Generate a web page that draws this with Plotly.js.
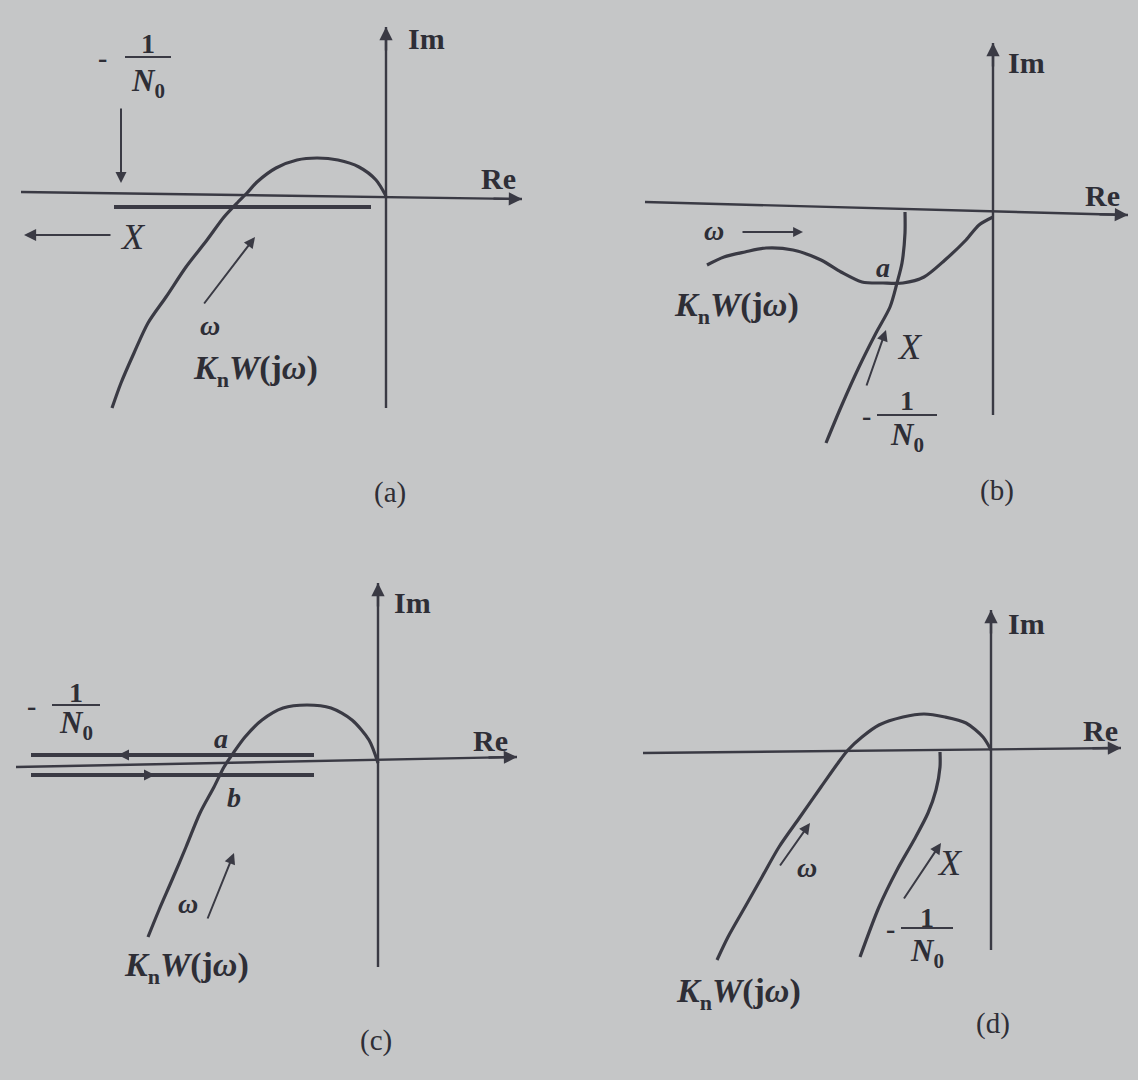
<!DOCTYPE html>
<html>
<head>
<meta charset="utf-8">
<script src="https://cdn.plot.ly/plotly-3.0.1.min.js"></script>
<style>
  html, body { margin: 0; padding: 0; background: #c5c6c7; }
  #chart { width: 1138px; height: 1080px; }
</style>
</head>
<body>
<div id="chart"></div>
<script>
// ---- Panel (a): K_nW(jω) crosses the negative real axis, -1/N0 lies on it ----
const aReAxisRe = [-3.65, 1.36], aReAxisIm = [0.04, -0.03];
const aImAxisIm = [-2.12, 1.69];
const aKwRe = [0, -0.10, -0.27, -0.48, -0.69, -0.89, -1.10, -1.29, -1.39, -1.48, -1.62, -1.79, -2.00, -2.20, -2.38, -2.52, -2.65, -2.74];
const aKwIm = [0, 0.16, 0.29, 0.36, 0.38, 0.36, 0.28, 0.14, 0.03, -0.06, -0.21, -0.44, -0.71, -1.01, -1.27, -1.57, -1.87, -2.12];
const aLocusRe = [-2.72, -0.15];
const aLocusIm = [-0.11, -0.11];

// ---- Panel (b): -1/N0 leaves the real axis and meets K_nW(jω) at a ----
const bReAxisRe = [-3.48, 1.35], bReAxisIm = [0.11, -0.02];
const bImAxisIm = [-2.02, 1.70];
const bKwRe = [0, -0.14, -0.27, -0.48, -0.69, -0.90, -1.10, -1.31, -1.52, -1.72, -2.00, -2.27, -2.48, -2.69, -2.86];
const bKwIm = [-0.04, -0.12, -0.27, -0.47, -0.64, -0.70, -0.70, -0.69, -0.59, -0.47, -0.37, -0.35, -0.39, -0.44, -0.52];
const bLocusRe = [-0.88, -0.88, -0.91, -0.96, -1.03, -1.17, -1.34, -1.52, -1.67];
const bLocusIm = [0.01, -0.20, -0.50, -0.70, -0.94, -1.20, -1.54, -1.94, -2.30];

// ---- Panel (c): -1/N0 runs out and back along the real axis (points a, b) ----
const cReAxisRe = [-3.62, 1.39], cReAxisIm = [-0.04, 0.06];
const cImAxisIm = [-2.04, 1.80];
const cKwRe = [0, -0.09, -0.26, -0.47, -0.71, -0.95, -1.16, -1.33, -1.44, -1.54, -1.64, -1.78, -1.92, -2.06, -2.19, -2.30];
const cKwIm = [0, 0.23, 0.43, 0.55, 0.58, 0.55, 0.43, 0.26, 0.11, -0.04, -0.24, -0.50, -0.84, -1.17, -1.47, -1.74];
const cOutRe = [-3.47, -0.64], cOutIm = [0.08, 0.08];
const cBackRe = [-3.47, -0.64], cBackIm = [-0.12, -0.12];

// ---- Panel (d): -1/N0 stays inside K_nW(jω), no intersection ----
const dReAxisRe = [-3.48, 1.30], dReAxisIm = [-0.03, 0.02];
const dImAxisIm = [-2.00, 1.40];
const dKwRe = [0, -0.08, -0.25, -0.46, -0.67, -0.88, -1.12, -1.29, -1.43, -1.53, -1.70, -1.91, -2.12, -2.29, -2.46, -2.63, -2.74];
const dKwIm = [0, 0.13, 0.27, 0.33, 0.36, 0.33, 0.25, 0.13, 0, -0.13, -0.37, -0.67, -0.97, -1.27, -1.57, -1.87, -2.10];
const dLocusRe = [-0.51, -0.51, -0.55, -0.63, -0.77, -0.94, -1.12, -1.31];
const dLocusIm = [-0.02, -0.17, -0.40, -0.63, -0.90, -1.20, -1.57, -2.07];

// ---- Drawing setup ----
const W = 1138, H = 1080, PX_PER_UNIT = 100;
const INK = '#3a3a44';
const TEXT = '#2e2e36';
const SERIF = 'Liberation Serif, Times New Roman, serif';

// each panel: axis suffix, pixel position of its origin, quadrant domain
const panels = [
  { s: '',  ox: 386, oy: 196, dx: [0, 0.5], dy: [0.5, 1] },
  { s: '2', ox: 993, oy: 213, dx: [0.5, 1], dy: [0.5, 1] },
  { s: '3', ox: 378, oy: 763, dx: [0, 0.5], dy: [0, 0.5] },
  { s: '4', ox: 991, oy: 750, dx: [0.5, 1], dy: [0, 0.5] }
];

const layout = {
  width: W, height: H,
  margin: { l: 0, r: 0, t: 0, b: 0, pad: 0 },
  paper_bgcolor: '#c5c6c7',
  plot_bgcolor: 'rgba(0,0,0,0)',
  showlegend: false,
  annotations: []
};

panels.forEach(p => {
  const px0 = p.dx[0] * W, px1 = p.dx[1] * W;
  const pyTop = (1 - p.dy[1]) * H, pyBot = (1 - p.dy[0]) * H;
  const hidden = { showgrid: false, zeroline: false, showline: false, showticklabels: false, ticks: '', fixedrange: true };
  layout['xaxis' + p.s] = Object.assign({
    domain: p.dx, anchor: 'y' + p.s,
    range: [(px0 - p.ox) / PX_PER_UNIT, (px1 - p.ox) / PX_PER_UNIT]
  }, hidden);
  layout['yaxis' + p.s] = Object.assign({
    domain: p.dy, anchor: 'x' + p.s,
    range: [(p.oy - pyBot) / PX_PER_UNIT, (p.oy - pyTop) / PX_PER_UNIT]
  }, hidden);
});

const traces = [];
function line(s, xs, ys, width, smooth) {
  traces.push({
    type: 'scatter', mode: 'lines', x: xs, y: ys,
    xaxis: 'x' + s, yaxis: 'y' + s,
    line: { color: INK, width: width, shape: smooth ? 'spline' : 'linear', smoothing: 0.8 },
    hoverinfo: 'skip', cliponaxis: false
  });
}
function label(s, x, y, text, size, italic, bold) {
  layout.annotations.push({
    xref: 'x' + s, yref: 'y' + s, x: x, y: y, text: text, showarrow: false,
    font: { family: SERIF, size: size, color: TEXT, style: italic ? 'italic' : 'normal', weight: bold ? 'bold' : 'normal' },
    xanchor: 'center', yanchor: 'middle'
  });
}
// straight arrow from (x0,y0) to (x1,y1) with the head at (x1,y1)
function arrow(s, x0, y0, x1, y1, w) {
  layout.annotations.push({
    xref: 'x' + s, yref: 'y' + s, axref: 'x' + s, ayref: 'y' + s,
    x: x1, y: y1, ax: x0, ay: y0, text: '', showarrow: true,
    arrowhead: 2, arrowsize: 1.1, arrowwidth: w || 2, arrowcolor: INK, standoff: 0, startstandoff: 0
  });
}
// italic run and lowered subscript, each carrying its own size
const it = (t, size) => '<span style="font-style:italic;font-size:' + size + 'px">' + t + '</span>';
const lo = (t, size) => '<span style="font-size:' + size + 'px;baseline-shift:-' + Math.round(size * 0.35) + 'px">' + t + '</span>';

// -1/N0 written as a stacked fraction with a leading minus sign
function invN0(s, cx, yTop, yBar, yBot, halfBar, xMinus) {
  label(s, cx, yTop, '1', 28, false, true);
  line(s, [cx - halfBar, cx + halfBar], [yBar, yBar], 2, false);
  label(s, cx, yBot, it('N', 31) + lo('0', 21), 31, false, true);
  label(s, xMinus, yBar, '-', 28, false, true);
}
function axes(s, reX, reY, imY) {
  line(s, reX, reY, 2.4, false);
  line(s, [0, 0], imY, 2.4, false);
  const dx = reX[1] - reX[0], dy = reY[1] - reY[0];
  arrow(s, reX[1] - 0.3, reY[1] - 0.3 * dy / dx, reX[1], reY[1], 2.4);
  arrow(s, 0, imY[1] - 0.25, 0, imY[1], 2.4);
}
const KW_SIZE = 34, AX_SIZE = 30, CAP_SIZE = 29, SYM_SIZE = 28, X_SIZE = 36;
const KW = it('K', KW_SIZE) + lo('n', 22) + it('W', KW_SIZE) + '(j' + it('ω', KW_SIZE) + ')';

// ---- (a) ----
axes('', aReAxisRe, aReAxisIm, aImAxisIm);
line('', aKwRe, aKwIm, 3.2, true);
line('', aLocusRe, aLocusIm, 4, false);
arrow('', -2.65, 0.89, -2.65, 0.13, 2);
arrow('', -2.74, -0.39, -3.62, -0.39, 2.2);
arrow('', -1.83, -1.09, -1.31, -0.41, 2);
label('', 1.12, 0.18, 'Re', AX_SIZE, false, true);
label('', 0.40, 1.58, 'Im', AX_SIZE, false, true);
invN0('', -2.38, 1.53, 1.39, 1.13, 0.23, -2.84);
label('', -2.53, -0.41, 'X', X_SIZE, true);
label('', -1.76, -1.29, 'ω', SYM_SIZE, true, true);
label('', -1.31, -1.74, KW, KW_SIZE, false, true);
label('', 0.04, -2.96, '(a)', CAP_SIZE);

// ---- (b) ----
axes('2', bReAxisRe, bReAxisIm, bImAxisIm);
line('2', bKwRe, bKwIm, 3.2, true);
line('2', bLocusRe, bLocusIm, 3.2, true);
arrow('2', -2.52, -0.19, -1.90, -0.19, 1.8);
arrow('2', -1.27, -1.74, -1.07, -1.17, 2);
label('2', 1.09, 0.18, 'Re', AX_SIZE, false, true);
label('2', 0.33, 1.51, 'Im', AX_SIZE, false, true);
label('2', -2.79, -0.17, 'ω', SYM_SIZE, true, true);
label('2', -1.10, -0.54, 'a', SYM_SIZE, true, true);
label('2', -2.57, -0.94, KW, KW_SIZE, false, true);
label('2', -0.83, -1.34, 'X', X_SIZE, true);
invN0('2', -0.86, -1.87, -2.02, -2.24, 0.30, -1.27);
label('2', 0.04, -2.77, '(b)', CAP_SIZE);

// ---- (c) ----
axes('3', cReAxisRe, cReAxisIm, cImAxisIm);
line('3', cKwRe, cKwIm, 3.2, true);
line('3', cOutRe, cOutIm, 4, false);
line('3', cBackRe, cBackIm, 4, false);
arrow('3', -2.30, 0.08, -2.60, 0.08, 2);
arrow('3', -2.55, -0.12, -2.23, -0.12, 2);
arrow('3', -1.71, -1.57, -1.44, -0.90, 2);
label('3', 1.12, 0.23, 'Re', AX_SIZE, false, true);
label('3', 0.34, 1.61, 'Im', AX_SIZE, false, true);
invN0('3', -3.02, 0.71, 0.58, 0.38, 0.24, -3.47);
label('3', -1.57, 0.25, 'a', SYM_SIZE, true, true);
label('3', -1.44, -0.34, 'b', SYM_SIZE, true, true);
label('3', -1.90, -1.40, 'ω', SYM_SIZE, true, true);
label('3', -1.92, -2.04, KW, KW_SIZE, false, true);
label('3', -0.02, -2.77, '(c)', CAP_SIZE);

// ---- (d) ----
axes('4', dReAxisRe, dReAxisIm, dImAxisIm);
line('4', dKwRe, dKwIm, 3.2, true);
line('4', dLocusRe, dLocusIm, 3.2, true);
arrow('4', -2.12, -1.17, -1.81, -0.73, 2);
arrow('4', -0.88, -1.50, -0.50, -0.93, 2);
label('4', 1.09, 0.20, 'Re', AX_SIZE, false, true);
label('4', 0.35, 1.27, 'Im', AX_SIZE, false, true);
label('4', -1.84, -1.17, 'ω', SYM_SIZE, true, true);
label('4', -0.41, -1.13, 'X', X_SIZE, true);
invN0('4', -0.64, -1.67, -1.78, -2.03, 0.26, -1.01);
label('4', -2.53, -2.43, KW, KW_SIZE, false, true);
label('4', 0.02, -2.73, '(d)', CAP_SIZE);

Plotly.newPlot('chart', traces, layout, { staticPlot: true, displayModeBar: false });
</script>
</body>
</html>
